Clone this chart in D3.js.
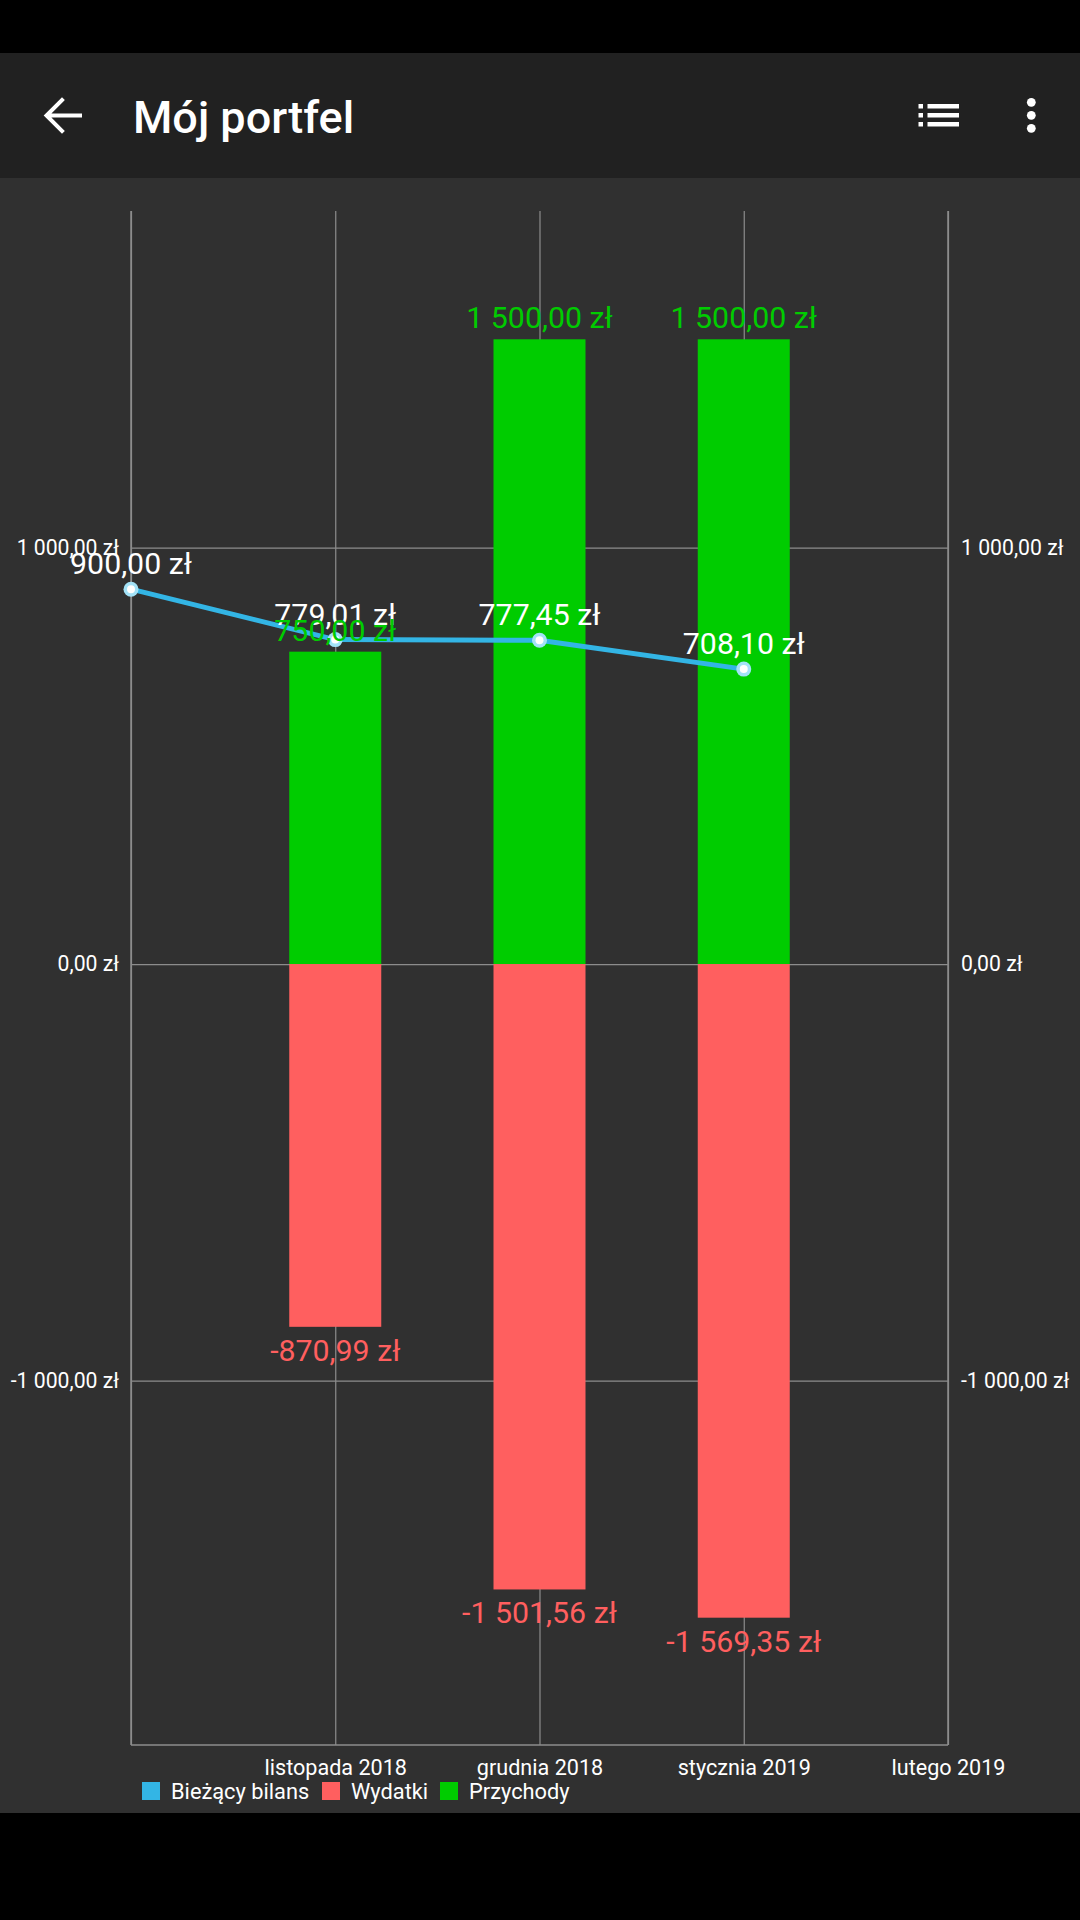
<!DOCTYPE html>
<html><head><meta charset="utf-8">
<script src="https://cdn.jsdelivr.net/npm/d3@7"></script>
<style>
html,body{margin:0;padding:0;background:#000;}
svg{display:block;font-family:Roboto,"Noto Sans",sans-serif;}
</style>
</head><body>
<svg id="c" width="1080" height="1920"></svg>
<script>
// ---- data ----
const monthKeys = ["2018-10", "2018-11", "2018-12", "2019-01", "2019-02"];
const monthLabels = ["", "listopada 2018", "grudnia 2018", "stycznia 2019", "lutego 2019"];
const balanceMonths = ["2018-10", "2018-11", "2018-12", "2019-01"];
const balanceValues = [900.00, 779.01, 777.45, 708.10];
const barMonths = ["2018-11", "2018-12", "2019-01"];
const incomeValues = [750.00, 1500.00, 1500.00];
const expenseValues = [-870.99, -1501.56, -1569.35];
const yTicks = [-1000, 0, 1000];
const seriesNames = ["Bieżący bilans", "Wydatki", "Przychody"];
const yDomain = [-1875, 1808];

// ---- style ----
const C = {
  status: "#000000", appbar: "#212121", bg: "#303030", grid: "#8c8c8c",
  blue: "#33b5e5", point: "#a3e2f7", red: "#ff5f5f", green: "#00cc00", text: "#ffffff"
};
const colors = [C.blue, C.red, C.green];

const plot = {left: 131, right: 948, top: 211, bottom: 1745};
const barW = 92;

const loc = d3.formatLocale({decimal: ",", thousands: "\u00a0", grouping: [3], currency: ["", " zł"], minus: "-"});
const fmt = loc.format("$,.2f");

const svg = d3.select("#c");

// backgrounds
svg.append("rect").attr("x", 0).attr("y", 0).attr("width", 1080).attr("height", 1920).attr("fill", C.status);
svg.append("rect").attr("x", 0).attr("y", 53).attr("width", 1080).attr("height", 125).attr("fill", C.appbar);
svg.append("rect").attr("x", 0).attr("y", 178).attr("width", 1080).attr("height", 1635).attr("fill", C.bg);

// app bar
const ab = svg.append("g");
ab.append("path").attr("d", "M80,115.5 H48 M62,100 L46.5,115.5 L62,131")
  .attr("stroke", "#fff").attr("stroke-width", 4).attr("fill", "none").attr("stroke-linecap", "square");
ab.append("text").attr("x", 133).attr("y", 133).attr("fill", "#fff")
  .attr("font-size", 45).attr("font-weight", 500).text("Mój portfel");
[106, 115, 124].forEach(y => {
  ab.append("rect").attr("x", 918.5).attr("y", y - 2).attr("width", 4.5).attr("height", 4.5).attr("fill", "#fff");
  ab.append("rect").attr("x", 927.5).attr("y", y - 2).attr("width", 31.5).attr("height", 4.5).attr("fill", "#fff");
});
[102.3, 115.3, 128.3].forEach(y => {
  ab.append("circle").attr("cx", 1031.3).attr("cy", y).attr("r", 4.4).attr("fill", "#fff");
});

// scales
const x = d3.scalePoint().domain(monthKeys).range([plot.left, plot.right]);
const y = d3.scaleLinear().domain(yDomain).range([plot.bottom, plot.top]);

// vertical grid + x labels
const xAxis = d3.axisBottom(x).tickSize(-(plot.bottom - plot.top)).tickPadding(0)
  .tickFormat((d, i) => monthLabels[i]);
const gx = svg.append("g").attr("transform", `translate(0,${plot.bottom})`).call(xAxis);
gx.select(".domain").remove();
gx.selectAll(".tick line").attr("stroke", C.grid).attr("stroke-width", 1.2);
gx.selectAll(".tick text").attr("y", 30).attr("dy", null).attr("fill", C.text)
  .attr("font-size", 21.6).attr("font-family", "Roboto");

// horizontal grid + left labels
const yLeft = d3.axisLeft(y).tickValues(yTicks).tickSize(0).tickPadding(12).tickFormat(fmt);
const gl = svg.append("g").attr("transform", `translate(${plot.left},0)`).call(yLeft);
gl.select(".domain").remove();
gl.selectAll(".tick text").attr("fill", C.text).attr("font-size", 21.2).attr("font-family", "Roboto");
gl.selectAll(".tick").append("line").attr("x1", 0).attr("x2", plot.right - plot.left)
  .attr("stroke", C.grid).attr("stroke-width", 1.2);

const yRight = d3.axisRight(y).tickValues(yTicks).tickSize(0).tickPadding(13).tickFormat(fmt);
const gr = svg.append("g").attr("transform", `translate(${plot.right},0)`).call(yRight);
gr.select(".domain").remove();
gr.selectAll(".tick text").attr("fill", C.text).attr("font-size", 21.2).attr("font-family", "Roboto");

// axis lines
const axl = svg.append("g").attr("stroke", C.grid).attr("stroke-width", 1.5);
axl.append("line").attr("x1", plot.left).attr("x2", plot.left).attr("y1", plot.top).attr("y2", plot.bottom);
axl.append("line").attr("x1", plot.right).attr("x2", plot.right).attr("y1", plot.top).attr("y2", plot.bottom);
axl.append("line").attr("x1", plot.left).attr("x2", plot.right).attr("y1", plot.bottom).attr("y2", plot.bottom);

// bars
const bars = svg.append("g");
bars.selectAll(".inc").data(incomeValues).join("rect")
  .attr("x", (d, i) => x(barMonths[i]) - barW / 2).attr("width", barW)
  .attr("y", d => y(d)).attr("height", d => y(0) - y(d)).attr("fill", C.green);
bars.selectAll(".exp").data(expenseValues).join("rect")
  .attr("class", "exp")
  .attr("x", (d, i) => x(barMonths[i]) - barW / 2).attr("width", barW)
  .attr("y", y(0)).attr("height", d => y(d) - y(0)).attr("fill", C.red);

// balance line
const line = d3.line().x((d, i) => x(balanceMonths[i])).y(d => y(d));
svg.append("path").datum(balanceValues).attr("d", line)
  .attr("fill", "none").attr("stroke", C.blue).attr("stroke-width", 5).attr("stroke-linejoin", "round");
const pts = svg.append("g");
pts.selectAll("circle.o").data(balanceValues).join("circle").attr("class", "o")
  .attr("cx", (d, i) => x(balanceMonths[i])).attr("cy", d => y(d)).attr("r", 7.5).attr("fill", C.point);
pts.selectAll("circle.h").data(balanceValues).join("circle").attr("class", "h")
  .attr("cx", (d, i) => x(balanceMonths[i])).attr("cy", d => y(d)).attr("r", 4).attr("fill", "#fff");

// value labels
const vl = svg.append("g").attr("font-size", 30.3).attr("text-anchor", "middle");
vl.selectAll("text.b").data(balanceValues).join("text").attr("class", "b")
  .attr("x", (d, i) => x(balanceMonths[i])).attr("y", d => y(d) - 15)
  .attr("fill", C.text).text(d => fmt(d));
vl.selectAll("text.e").data(expenseValues).join("text").attr("class", "e")
  .attr("x", (d, i) => x(barMonths[i])).attr("y", d => y(d) + 34)
  .attr("fill", C.red).text(d => fmt(d));
vl.selectAll("text.i").data(incomeValues).join("text").attr("class", "i")
  .attr("x", (d, i) => x(barMonths[i])).attr("y", d => y(d) - 11)
  .attr("fill", C.green).text(d => fmt(d));

// legend
const lg = svg.append("g").attr("font-size", 21.8);
const legendX = [142, 322, 440];
seriesNames.forEach((n, i) => {
  lg.append("rect").attr("x", legendX[i]).attr("y", 1782).attr("width", 18).attr("height", 18).attr("fill", colors[i]);
  lg.append("text").attr("x", legendX[i] + 29).attr("y", 1799).attr("fill", C.text).text(n);
});
</script>
</body></html>
